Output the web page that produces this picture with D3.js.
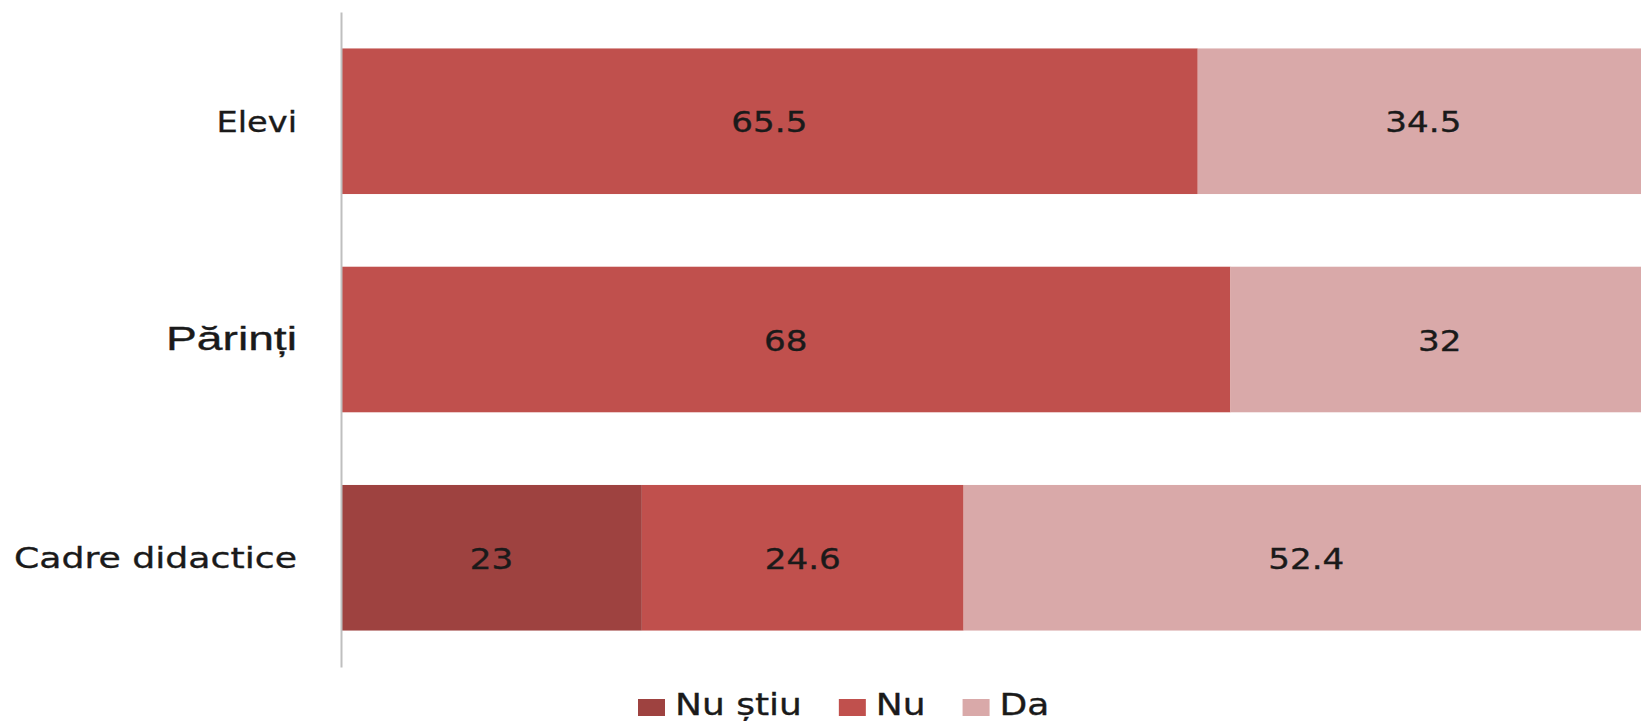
<!DOCTYPE html>
<html>
<head>
<meta charset="utf-8">
<script src="https://cdn.jsdelivr.net/npm/d3@7"></script>
<style>
  body { margin: 0; background: #fff; }
  svg { display: block; }
  text { font-family: "DejaVu Sans", Verdana, sans-serif; fill: #1a1a1a; stroke: #1a1a1a; stroke-width: 0.35px; }
</style>
</head>
<body>
<div id="container"></div>
<script>
var categories = ['Elevi', 'Părinți', 'Cadre didactice'];
var seriesNames = ['Nu știu', 'Nu', 'Da'];
var nuStiu = [0, 0, 23];
var nu = [65.5, 68, 24.6];
var da = [34.5, 32, 52.4];

var width = 1641;
var height = 721;
var colors = ['#9e4240', '#c0504d', '#d9a9a9'];

var rows = categories.map(function (c, i) {
	return {cat: c, 'Nu știu': nuStiu[i], 'Nu': nu[i], 'Da': da[i]};
});

var svg = d3.select('#container')
	.append('svg')
	.attr('width', width)
	.attr('height', height);

var x = d3.scaleLinear().domain([0, 100]).range([341, 1649]);
var y = d3.scaleBand()
	.domain(categories)
	.range([12, 667])
	.paddingInner(0.333)
	.paddingOuter(0.167);
var color = d3.scaleOrdinal().domain(seriesNames).range(colors);

var layers = d3.stack().keys(seriesNames)(rows);

var groups = svg.selectAll('g.layer')
	.data(layers)
	.enter()
	.append('g')
	.attr('class', 'layer')
	.attr('fill', function (d) { return color(d.key); });

groups.selectAll('rect')
	.data(function (d) { return d; })
	.enter()
	.append('rect')
	.attr('x', function (d) { return x(d[0]); })
	.attr('y', function (d) { return y(d.data.cat); })
	.attr('width', function (d) { return x(d[1]) - x(d[0]); })
	.attr('height', y.bandwidth());

// value labels, only for non-empty segments
groups.selectAll('text')
	.data(function (d) { return d.filter(function (p) { return p[1] - p[0] > 0; }); })
	.enter()
	.append('text')
	.attr('text-anchor', 'middle')
	.attr('dy', '0.36em')
	.attr('font-size', 28)
	.attr('transform', function (d) {
		var cx = (x(d[0]) + x(d[1])) / 2;
		var cy = y(d.data.cat) + y.bandwidth() / 2 + 1;
		return 'translate(' + cx + ',' + cy + ') scale(1.22,1)';
	})
	.text(function (d) { return +(d[1] - d[0]).toFixed(1); });

// category axis
var axis = svg.append('g')
	.attr('transform', 'translate(' + x(0) + ',0)')
	.call(d3.axisLeft(y).tickSize(0).tickSizeOuter(0));

axis.select('.domain')
	.attr('stroke', '#bfbfbf')
	.attr('stroke-width', 2);

axis.selectAll('.tick text')
	.attr('x', 0)
	.attr('dy', '0.36em')
	.attr('fill', '#1a1a1a')
	.style('font-family', function (d) {
		return d === 'Părinți' ? '"Liberation Sans", Arial, sans-serif' : '"DejaVu Sans", Verdana, sans-serif';
	})
	.attr('font-size', function (d) { return d === 'Părinți' ? 34 : 29; })
	.attr('transform', function (d) {
		if (d === 'Părinți') return 'translate(-44,-2) scale(1.36,1)';
		if (d === 'Elevi') return 'translate(-44,0) scale(1.16,1)';
		return 'translate(-44,0) scale(1.25,1)';
	});

// legend
var legend = svg.append('g');
var lx = 638;
seriesNames.forEach(function (name) {
	legend.append('rect')
		.attr('x', lx)
		.attr('y', 699)
		.attr('width', 27)
		.attr('height', 17)
		.attr('fill', color(name));
	var t = legend.append('text')
		.attr('font-size', 30)
		.attr('transform', 'translate(' + (lx + 37) + ',715) scale(1.2,1)')
		.text(name);
	lx += 37 + t.node().getComputedTextLength() * 1.2 + 37;
});
</script>
</body>
</html>
